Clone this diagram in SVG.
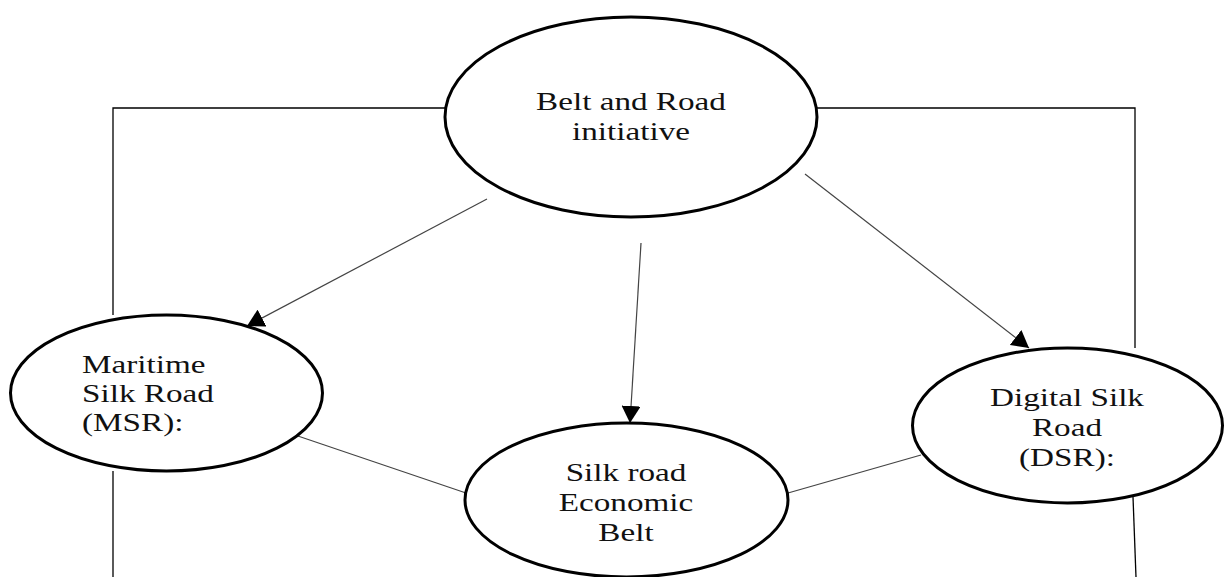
<svg xmlns="http://www.w3.org/2000/svg" width="1224" height="577" viewBox="0 0 1224 577">
  <style>
    .node { fill: #ffffff; stroke: #000000; stroke-width: 3; }
    .frame { fill: none; stroke: #000000; stroke-width: 1.3; }
    .link { fill: none; stroke: #444444; stroke-width: 1.2; }
    .arrow { fill: none; stroke: #444444; stroke-width: 1.2; marker-end: url(#head); }
    text { font-family: 'Liberation Serif', 'Times New Roman', 'DejaVu Serif', serif; font-size: 24.5px; fill: #111111; }
    .mid { text-anchor: middle; }
  </style>
  <defs>
    <marker id="head" viewBox="0 0 17 19" refX="17" refY="9.5" markerWidth="17" markerHeight="19" markerUnits="userSpaceOnUse" orient="auto">
      <path d="M0,0 L17,9.5 L0,19 z" fill="#000000"/>
    </marker>
  </defs>

  <g id="connectors">
    <polyline class="frame" points="446,108 113,108 113,315"/>
    <line class="frame" x1="113" y1="471" x2="113" y2="577"/>
    <polyline class="frame" points="817,108 1135,108 1135,348"/>
    <line class="frame" x1="1133" y1="497" x2="1136" y2="577"/>
    <line class="arrow" x1="487" y1="199" x2="247" y2="326"/>
    <line class="arrow" x1="641" y1="243" x2="630" y2="423"/>
    <line class="arrow" x1="805" y1="174" x2="1029" y2="348"/>
    <line class="link" x1="292" y1="434" x2="466" y2="493"/>
    <line class="link" x1="788" y1="493" x2="921" y2="455"/>
  </g>

  <g id="bri">
    <ellipse class="node" cx="631" cy="117" rx="186" ry="100"/>
    <g transform="translate(631,0) scale(1.355,1)">
      <text class="mid" x="0" y="110">Belt and Road</text>
      <text class="mid" x="0" y="140">initiative</text>
    </g>
  </g>

  <g id="msr">
    <ellipse class="node" cx="166.5" cy="393" rx="156" ry="78"/>
    <g transform="translate(82,0) scale(1.355,1)">
      <text x="0" y="373">Maritime</text>
      <text x="0" y="402">Silk Road</text>
      <text x="0" y="431">(MSR):</text>
    </g>
  </g>

  <g id="sreb">
    <ellipse class="node" cx="626.5" cy="500" rx="161.5" ry="77"/>
    <g transform="translate(626,0) scale(1.355,1)">
      <text class="mid" x="0" y="481">Silk road</text>
      <text class="mid" x="0" y="511">Economic</text>
      <text class="mid" x="0" y="541">Belt</text>
    </g>
  </g>

  <g id="dsr">
    <ellipse class="node" cx="1067.5" cy="425.5" rx="155" ry="77.5"/>
    <g transform="translate(1067,0) scale(1.355,1)">
      <text class="mid" x="0" y="406">Digital Silk</text>
      <text class="mid" x="0" y="436">Road</text>
      <text class="mid" x="0" y="466">(DSR):</text>
    </g>
  </g>
</svg>
